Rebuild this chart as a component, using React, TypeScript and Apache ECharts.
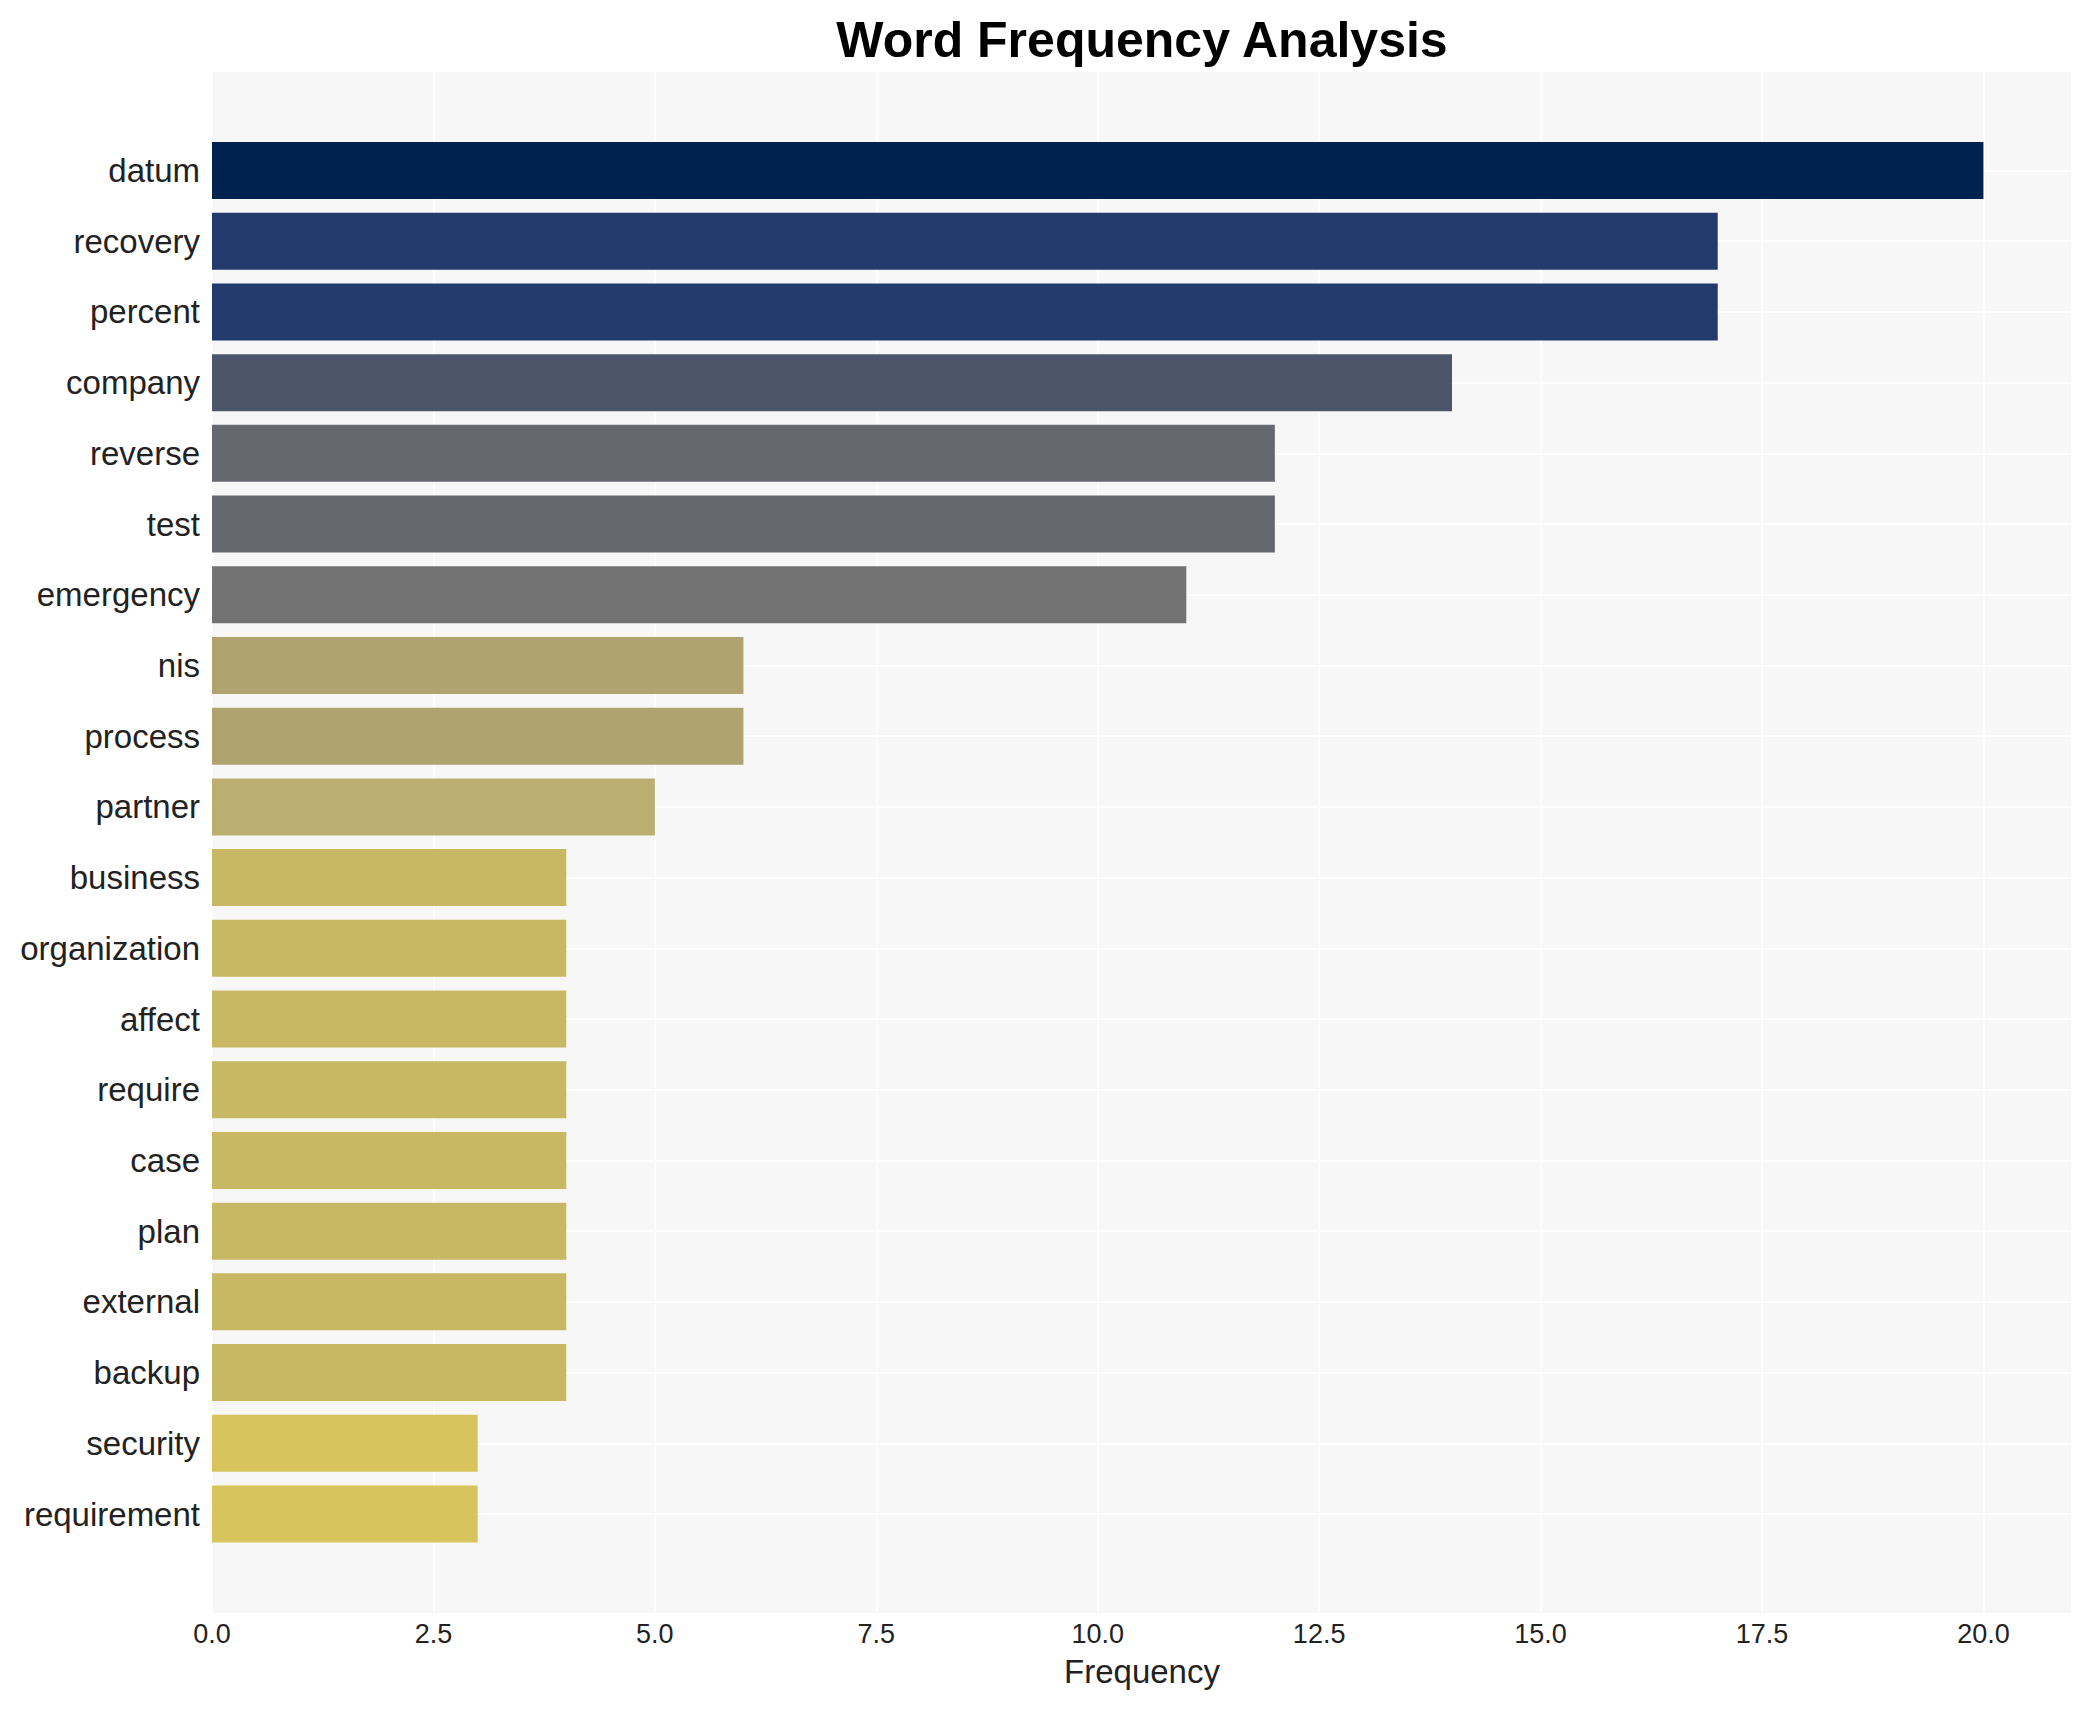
import React, { useEffect, useRef } from 'react';
import * as echarts from 'echarts';

const categories = [
  'datum', 'recovery', 'percent', 'company', 'reverse', 'test', 'emergency', 'nis', 'process', 'partner',
  'business', 'organization', 'affect', 'require', 'case', 'plan', 'external', 'backup', 'security', 'requirement',
];
const frequencies = [20, 17, 17, 14, 12, 12, 11, 6, 6, 5, 4, 4, 4, 4, 4, 4, 4, 4, 3, 3];
const barColors = [
  '#00224e', '#233b6c', '#233b6c', '#4c566b', '#666870', '#666870', '#737272', '#afa370', '#afa370', '#bcae70',
  '#c9b863', '#c9b863', '#c9b863', '#c9b863', '#c9b863', '#c9b863', '#c9b863', '#c9b863', '#d7c45d', '#d7c45d',
];
const titleText = 'Word Frequency Analysis';
const xAxisName = 'Frequency';

const FONT = "'Liberation Sans', Arial, Helvetica, sans-serif";

export default function App() {
  const ref = useRef<HTMLDivElement>(null);

  useEffect(() => {
    if (!ref.current) return;
    const chart = echarts.init(ref.current, null, { renderer: 'svg' });
    const option = {
      animation: false,
      backgroundColor: '#ffffff',
      textStyle: { fontFamily: FONT },
      graphic: [
        {
          type: 'text',
          x: 1142,
          y: 39.5,
          style: {
            text: titleText,
            fontSize: 50,
            fontWeight: 'bold',
            fontFamily: FONT,
            fill: '#000000',
            textAlign: 'center',
            textVerticalAlign: 'middle',
          },
        },
      ],
      grid: [
        { left: 212, right: 19, top: 72, bottom: 97, show: true, backgroundColor: '#f7f7f7', borderWidth: 0 },
        { left: 212, right: 19, top: 170.5, bottom: 196, show: false },
      ],
      xAxis: [
        {
          gridIndex: 0,
          type: 'value',
          min: 0,
          max: 21,
          interval: 2.5,
          axisLine: { show: false },
          axisTick: { show: false },
          axisLabel: {
            fontSize: 27,
            color: '#222222',
            margin: 7,
            fontFamily: FONT,
            showMaxLabel: false,
            formatter: (v: number) => (v > 20 ? '' : v.toFixed(1)),
          },
          splitLine: { show: true, lineStyle: { color: '#ffffff', width: 1.5 } },
          name: xAxisName,
          nameLocation: 'middle',
          nameGap: 42,
          nameTextStyle: { fontSize: 33, color: '#222222', fontFamily: FONT },
        },
        { gridIndex: 1, type: 'value', min: 0, max: 21, show: false },
      ],
      yAxis: [
        { gridIndex: 0, type: 'value', min: 0, max: 1, show: false },
        {
          gridIndex: 1,
          type: 'category',
          data: categories,
          inverse: true,
          boundaryGap: false,
          axisLine: { show: false },
          axisTick: { show: false },
          axisLabel: { fontSize: 33, color: '#222222', margin: 12, interval: 0, fontFamily: FONT },
          splitLine: { show: true, interval: 0, lineStyle: { color: '#ffffff', width: 2 } },
        },
      ],
      series: [
        {
          type: 'bar',
          xAxisIndex: 1,
          yAxisIndex: 1,
          barWidth: 57,
          clip: false,
          data: frequencies.map((v, i) => ({ value: v, itemStyle: { color: barColors[i] } })),
        },
      ],
    };
    chart.setOption(option as any);
    return () => {
      chart.dispose();
    };
  }, []);

  return (
    <div
      ref={ref}
      style={{ position: 'fixed', left: 0, top: 0, width: 2091, height: 1710, background: '#ffffff' }}
    />
  );
}
